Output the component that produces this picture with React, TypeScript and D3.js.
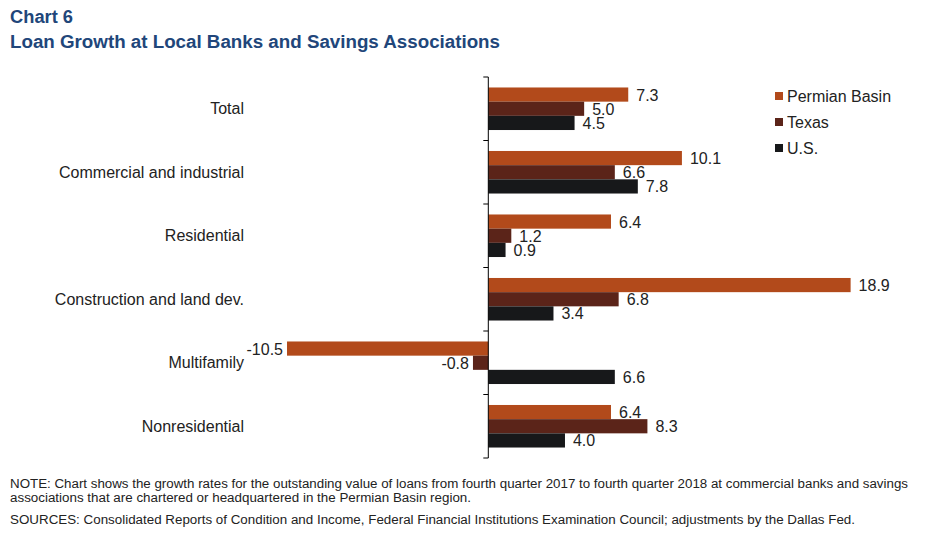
import React from "react";
import * as d3 from "d3";

const categories = [
  "Total",
  "Commercial and industrial",
  "Residential",
  "Construction and land dev.",
  "Multifamily",
  "Nonresidential",
];
const seriesNames = ["Permian Basin", "Texas", "U.S."];
const permian = [7.3, 10.1, 6.4, 18.9, -10.5, 6.4];
const texas = [5.0, 6.6, 1.2, 6.8, -0.8, 8.3];
const us = [4.5, 7.8, 0.9, 3.4, 6.6, 4.0];
const colors = ["#b24a1b", "#5b2419", "#17181a"];

const W = 948;
const H = 541;

export default function App() {
  const series = [permian, texas, us];
  const x = d3.scaleLinear().domain([-12, 20]).range([488.3 - 12 * 19.17, 488.3 + 20 * 19.17]);
  const y = d3.scaleBand<string>().domain(categories).range([77, 458]).paddingInner(0.33).paddingOuter(0.165);
  const sub = d3.scaleBand<number>().domain([0, 1, 2]).range([0, y.bandwidth()]);
  const x0 = x(0);
  const font = "Arial, 'Liberation Sans', sans-serif";

  return (
    <svg width={W} height={H} style={{ position: "absolute", left: 0, top: 0, background: "#fff" }} fontFamily={font}>
      <text x={10} y={23} fontSize={18} fontWeight="bold" fill="#21467a" textLength={63} lengthAdjust="spacingAndGlyphs">Chart 6</text>
      <text x={10} y={48} fontSize={18} fontWeight="bold" fill="#21467a" textLength={490} lengthAdjust="spacingAndGlyphs">
        Loan Growth at Local Banks and Savings Associations
      </text>

      {series.map((vals, si) =>
        vals.map((v, ci) => {
          const yy = (y(categories[ci]) as number) + (sub(si) as number);
          const bh = sub.bandwidth();
          const xs = Math.min(x(v), x0);
          const w = Math.abs(x(v) - x0);
          const neg = v < 0;
          return (
            <g key={`${si}-${ci}`}>
              <rect x={xs} y={yy} width={w} height={bh} fill={colors[si]} />
              <text
                x={neg ? x(v) - 4 : x(v) + 8}
                y={yy + bh / 2 + 6}
                fontSize={16}
                fill="#222"
                textAnchor={neg ? "end" : "start"}
              >
                {v.toFixed(1)}
              </text>
            </g>
          );
        })
      )}

      <line x1={x0} x2={x0} y1={77} y2={458} stroke="#000" strokeWidth={1} />
      {d3.range(categories.length + 1).map((i) => {
        const ty = 77 + i * (381 / categories.length);
        return <line key={i} x1={x0 - 5} x2={x0} y1={ty} y2={ty} stroke="#000" strokeWidth={1} />;
      })}

      {categories.map((c) => (
        <text key={c} x={244} y={(y(c) as number) + y.bandwidth() / 2 + 5.5} fontSize={16} fill="#222" textAnchor="end">
          {c}
        </text>
      ))}

      {seriesNames.map((n, i) => (
        <g key={n}>
          <rect x={775} y={92 + i * 26} width={8} height={8} fill={colors[i]} />
          <text x={787} y={101.5 + i * 26} fontSize={16} fill="#222">{n}</text>
        </g>
      ))}

      <text x={10} y={488} fontSize={12.5} fill="#222" textLength={898} lengthAdjust="spacingAndGlyphs">
        NOTE: Chart shows the growth rates for the outstanding value of loans from fourth quarter 2017 to fourth quarter 2018 at commercial banks and savings
      </text>
      <text x={10} y={502} fontSize={12.5} fill="#222" textLength={461} lengthAdjust="spacingAndGlyphs">
        associations that are chartered or headquartered  in the Permian Basin region.
      </text>
      <text x={10} y={524} fontSize={12.5} fill="#222" textLength={845} lengthAdjust="spacingAndGlyphs">
        SOURCES: Consolidated Reports of Condition and Income, Federal Financial Institutions Examination Council; adjustments by the Dallas Fed.
      </text>
    </svg>
  );
}
